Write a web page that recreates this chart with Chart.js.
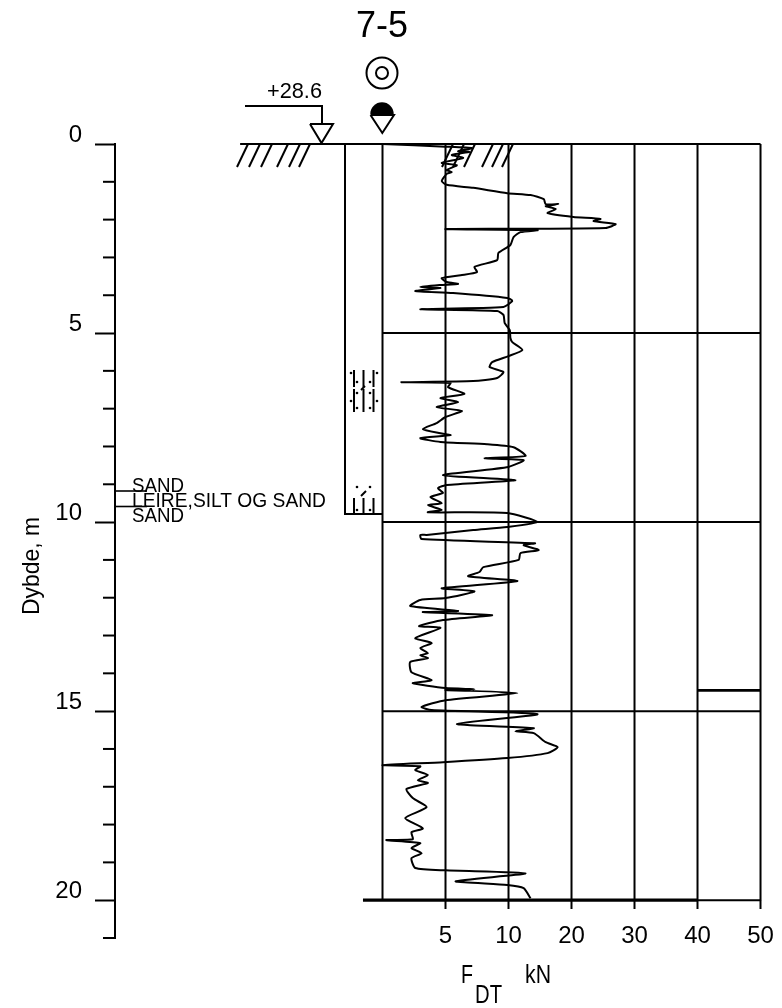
<!DOCTYPE html>
<html>
<head>
<meta charset="utf-8">
<title>7-5</title>
<script src="https://cdn.jsdelivr.net/npm/chart.js@4/dist/chart.umd.min.js"></script>
<style>
  html, body { margin: 0; padding: 0; background: #fff; }
  canvas { display: block; }
</style>
</head>
<body>
<canvas id="soundingChart" width="782" height="1008"></canvas>
<script>
const forceTicks = [5, 10, 20, 30, 40, 50];
const depthLabels = [0, 5, 10, 15, 20];
const depthMinorTicks = [1, 2, 3, 4, 6, 7, 8, 9, 11, 12, 13, 14, 16, 17, 18, 19, 21];
const depthRules = [5, 10, 15];
const strayDepth = 14.45;

const forceKn = [
  0, 5.0, 7.1, 6.0, 6.9, 5.5, 6.4, 4.7, 5.9, 5.1, 5.5, 5.1, 4.7, 5.1, 7.2, 9.9, 13.5, 15.6, 15.9, 17.9,
  15.9, 17.5, 16.2, 20.3, 24.6, 23.5, 27.0, 25.4, 5.0, 14.6, 11.9, 10.8, 10.3, 9.2, 9.1, 7.3, 7.5, 6.2, 4.7, 5.1,
  6.0, 4.6, 3.0, 4.6, 2.6, 5.6, 9.9, 10.6, 9.6, 3.0, 9.1, 9.6, 9.7, 10.2, 10.3, 10.6, 12.2, 10.0, 8.7, 8.5,
  9.6, 9.1, 7.2, 1.5, 5.4, 5.2, 6.5, 4.6, 6.0, 4.3, 6.3, 5.0, 4.3, 3.2, 4.6, 5.4, 3.0, 4.6, 8.3, 10.8,
  12.7, 8.1, 12.4, 10.0, 4.8, 11.1, 5.1, 4.4, 4.8, 3.8, 4.7, 3.6, 4.7, 3.6, 9.9, 14.6, 9.9, 7.2, 3.5, 3.0,
  3.1, 14.2, 12.4, 14.8, 11.9, 11.6, 8.0, 7.7, 6.8, 11.4, 4.7, 7.3, 5.0, 3.0, 2.2, 6.0, 3.2, 8.7, 4.8, 2.9,
  4.6, 2.6, 3.9, 3.0, 3.6, 3.0, 3.6, 2.2, 2.3, 3.9, 2.4, 5.0, 7.3, 5.0, 11.4, 5.0, 3.1, 3.9, 14.6, 5.9,
  14.0, 11.1, 14.0, 15.9, 17.8, 16.2, 9.9, 4.8, 0.0, 3.0, 2.6, 3.6, 2.8, 3.6, 1.9, 2.4, 3.5, 1.8, 3.2, 2.3,
  2.4, 0.3, 3.0, 2.3, 3.1, 2.3, 2.6, 5.0, 12.7, 5.8, 9.9, 12.4, 13.5
];
const depthM = [
  0, 0.07, 0.11, 0.19, 0.21, 0.29, 0.37, 0.50, 0.56, 0.69, 0.74, 0.79, 0.98, 1.08, 1.16, 1.30, 1.35, 1.46, 1.59, 1.59,
  1.64, 1.72, 1.83, 1.93, 1.98, 2.04, 2.12, 2.22, 2.25, 2.28, 2.33, 2.46, 2.67, 2.88, 3.07, 3.25, 3.39, 3.47, 3.55, 3.65,
  3.70, 3.73, 3.78, 3.81, 3.89, 3.94, 4.07, 4.15, 4.31, 4.37, 4.42, 4.52, 4.74, 4.92, 5.13, 5.24, 5.45, 5.61, 5.77, 5.90,
  6.03, 6.19, 6.27, 6.30, 6.32, 6.43, 6.61, 6.72, 6.83, 6.96, 7.06, 7.22, 7.38, 7.54, 7.65, 7.70, 7.78, 7.88, 7.94, 8.02,
  8.25, 8.31, 8.36, 8.54, 8.76, 8.89, 9.02, 9.10, 9.23, 9.34, 9.50, 9.55, 9.68, 9.74, 9.76, 10.0, 10.13, 10.21, 10.34, 10.34,
  10.45, 10.56, 10.61, 10.74, 10.82, 11.0, 11.19, 11.32, 11.43, 11.56, 11.75, 11.83, 12.01, 12.06, 12.22, 12.35, 12.38, 12.46, 12.59, 12.75,
  12.80, 13.07, 13.20, 13.33, 13.47, 13.52, 13.60, 13.70, 13.97, 14.18, 14.26, 14.39, 14.42, 14.44, 14.52, 14.71, 14.89, 14.97, 15.08, 15.34,
  15.45, 15.53, 15.58, 15.82, 15.95, 16.11, 16.24, 16.35, 16.43, 16.46, 16.56, 16.69, 16.83, 16.90, 17.06, 17.30, 17.54, 17.83, 18.10, 18.20,
  18.39, 18.41, 18.49, 18.62, 18.76, 18.89, 19.15, 19.21, 19.29, 19.50, 19.60, 19.68, 19.95
];

const FONT = '"Liberation Sans", sans-serif';
const INK = '#000';
const LINE = 2;

// the force axis is stretched below 10 kN: 5 and 10 get the same width as 10 kN steps
const toSlot = kn => (kn <= 10 ? kn / 5 : kn / 10 + 1);

const rule = (x0, y0, x1, y1, width) => ({
  data: [{ x: x0, y: y0 }, { x: x1, y: y1 }],
  showLine: true,
  borderColor: INK,
  borderWidth: width,
  pointRadius: 0,
  clip: false
});

const lines = (ctx, pts, width) => {
  ctx.beginPath();
  ctx.lineWidth = width;
  pts.forEach((p, i) => (i ? ctx.lineTo(p[0], p[1]) : ctx.moveTo(p[0], p[1])));
  ctx.stroke();
};

const label = (ctx, text, x, y, size, align, maxWidth) => {
  ctx.font = size + 'px ' + FONT;
  ctx.textAlign = align || 'left';
  ctx.textBaseline = 'alphabetic';
  if (maxWidth) ctx.fillText(text, x, y, maxWidth);
  else ctx.fillText(text, x, y);
};

const dots = (ctx, pts) => {
  pts.forEach(p => {
    ctx.beginPath();
    ctx.arc(p[0], p[1], 1.3, 0, Math.PI * 2);
    ctx.fill();
  });
};

const drawingPlugin = {
  id: 'drawing',
  afterDraw(chart) {
    const ctx = chart.ctx;
    const yPx = chart.scales.y;
    const axisX = chart.scales.x.left;
    ctx.save();
    ctx.strokeStyle = INK;
    ctx.fillStyle = INK;
    ctx.lineCap = 'butt';

    // minor depth ticks
    depthMinorTicks.forEach(d => {
      const y = yPx.getPixelForValue(d);
      lines(ctx, [[axisX - 12, y], [axisX, y]], LINE);
    });

    // ground hatching
    [248, 260, 272, 288, 300, 310, 453, 464, 475, 493, 503, 513].forEach(x => {
      lines(ctx, [[x, 144], [x - 11, 167]], LINE);
    });

    // borehole column
    lines(ctx, [[345, 144], [345, 514], [383, 514]], LINE);
    [354, 363.5, 373.5].forEach(x => {
      lines(ctx, [[x, 370], [x, 387]], LINE);
      lines(ctx, [[x, 389], [x, 412]], LINE);
      lines(ctx, [[x, 498], [x, 513]], LINE);
    });
    lines(ctx, [[361, 390], [365, 386]], LINE);
    lines(ctx, [[361, 496], [366, 491]], LINE);
    dots(ctx, [[351, 373], [357, 382], [370, 382], [377, 373], [357, 393], [370, 393],
      [351, 401], [377, 401], [357, 408], [370, 408], [357, 487], [370, 487], [357, 510], [370, 510]]);

    // level marker
    lines(ctx, [[245, 106], [322, 106], [322, 124]], LINE);
    lines(ctx, [[310, 124], [333, 124], [321.5, 143], [310, 124]], LINE);
    label(ctx, '+28.6', 294.5, 98, 22, 'center', 55);

    // sounding symbols
    ctx.beginPath();
    ctx.lineWidth = LINE;
    ctx.arc(382, 73, 15.5, 0, Math.PI * 2);
    ctx.stroke();
    ctx.beginPath();
    ctx.arc(382, 73, 6, 0, Math.PI * 2);
    ctx.stroke();
    ctx.beginPath();
    ctx.arc(382, 114, 11.7, Math.PI, 0);
    ctx.fill();
    lines(ctx, [[370.5, 115], [394, 115], [382.3, 133], [370.5, 115]], LINE);

    label(ctx, '7-5', 382, 37, 36, 'center', 52);

    // strata
    lines(ctx, [[115, 491], [147, 491]], 1.6);
    lines(ctx, [[115, 506.5], [147, 506.5]], 1.6);
    label(ctx, 'SAND', 132, 492, 21, 'left', 52);
    label(ctx, 'LEIRE,SILT OG SAND', 132, 507, 21, 'left', 194);
    label(ctx, 'SAND', 132, 522, 21, 'left', 52);

    // axis titles
    label(ctx, 'F', 461, 983, 25, 'left', 12);
    label(ctx, 'DT', 475, 1003, 25, 'left', 27);
    label(ctx, 'kN', 525, 983, 25, 'left', 26);
    ctx.save();
    ctx.translate(39, 566);
    ctx.rotate(-Math.PI / 2);
    label(ctx, 'Dybde, m', 0, 0, 24, 'center', 98);
    ctx.restore();

    ctx.restore();
  }
};

const curve = forceKn.map((f, i) => ({ x: toSlot(f), y: depthM[i] }));

const datasets = [
  { data: curve, showLine: true, borderColor: INK, borderWidth: LINE, pointRadius: 0, tension: 0.2, clip: false },
  rule(-2.26, 0, 6, 0, LINE),
  rule(0, 0, 0, 20, LINE),
  rule(-0.31, 20, toSlot(40), 20, 3.2),
  rule(toSlot(40), 20, toSlot(50), 20, 2),
  rule(toSlot(40), strayDepth, toSlot(50), strayDepth, 2.6)
];
forceTicks.forEach(f => datasets.push(rule(toSlot(f), 0, toSlot(f), 20, LINE)));
depthRules.forEach(d => datasets.push(rule(0, d, 6, d, LINE)));

new Chart(document.getElementById('soundingChart'), {
  type: 'scatter',
  data: { datasets },
  plugins: [drawingPlugin],
  options: {
    responsive: false,
    animation: false,
    layout: { padding: { top: 144, bottom: 70, left: 0, right: 0 } },
    plugins: { legend: { display: false }, tooltip: { enabled: false } },
    scales: {
      x: {
        type: 'linear',
        position: { y: 20 },
        min: -4.246,
        max: 6.341,
        afterBuildTicks: axis => { axis.ticks = forceTicks.map(f => ({ value: toSlot(f) })); },
        afterFit: axis => { axis.paddingLeft = 0; axis.paddingRight = 0; },
        grid: { drawOnChartArea: false, tickLength: 9, tickColor: INK, tickWidth: LINE },
        border: { display: false },
        ticks: {
          color: INK,
          padding: 13,
          autoSkip: false,
          maxRotation: 0,
          font: { family: FONT, size: 24 },
          callback: (value, index) => forceTicks[index]
        }
      },
      y: {
        type: 'linear',
        reverse: true,
        min: 0,
        max: 21,
        afterFit: axis => { axis.width = 115; },
        afterBuildTicks: axis => { axis.ticks = depthLabels.map(d => ({ value: d })); },
        grid: { drawOnChartArea: false, tickLength: 20, tickColor: INK, tickWidth: LINE },
        border: { color: INK, width: LINE },
        ticks: {
          color: INK,
          padding: 13,
          labelOffset: -9,
          font: { family: FONT, size: 24 }
        }
      }
    }
  }
});
</script>
</body>
</html>
